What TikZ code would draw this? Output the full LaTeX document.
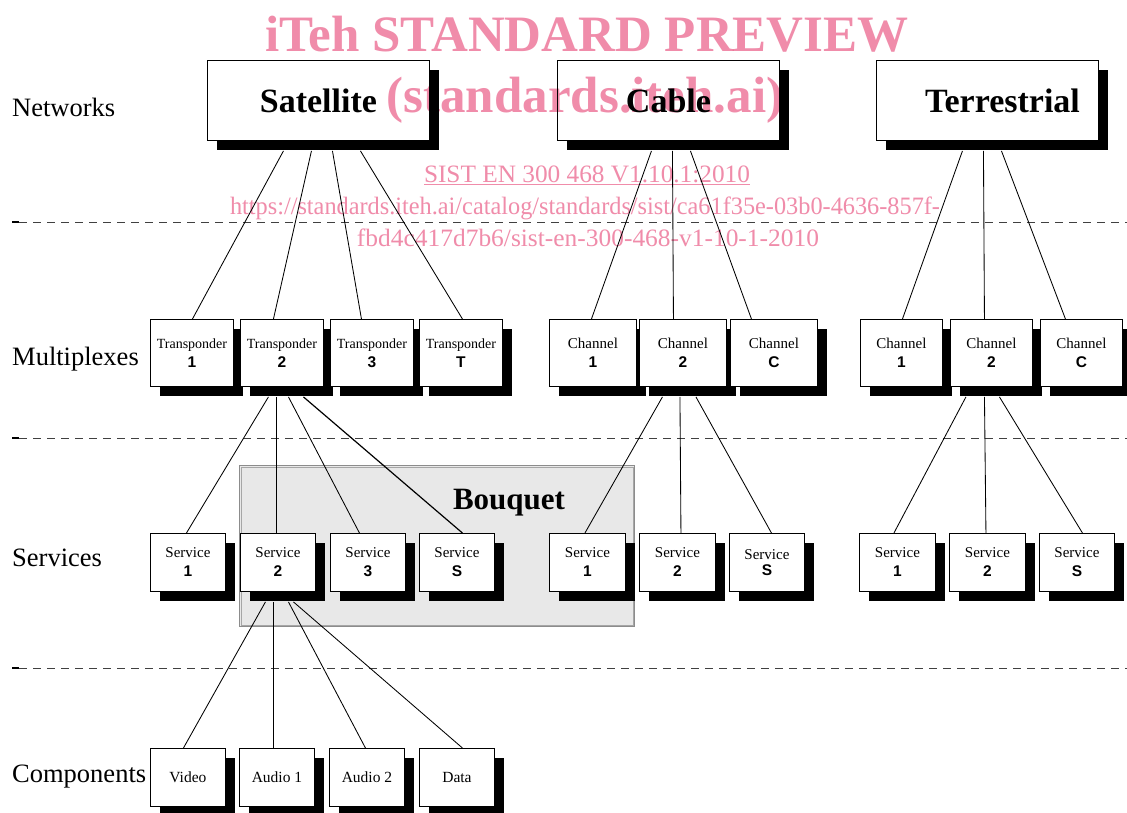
\documentclass[tikz,border=0pt]{standalone}
\usepackage{fontspec}
\setmainfont{Liberation Serif}
\setsansfont{Liberation Sans}
\usetikzlibrary{shadows}
\definecolor{wm}{RGB}{240,140,170}
\definecolor{bqfill}{RGB}{232,232,232}
\tikzset{
  box/.style={draw=black, line width=0.9pt, fill=white, inner sep=0pt, anchor=north west, align=center,
    drop shadow={shadow xshift=10pt, shadow yshift=-10pt, opacity=1, fill=black}},
  netbox/.style={box, minimum width=222pt, minimum height=80pt, font=\fontsize{34}{34}\selectfont\bfseries},
  muxbox/.style={box, minimum height=67pt, font=\fontsize{15}{19}\selectfont},
  svcbox/.style={box, minimum width=75pt, minimum height=58pt, font=\fontsize{15}{19}\selectfont},
  compbox/.style={box, minimum width=75pt, minimum height=58pt, font=\fontsize{15.5}{19}\selectfont},
  rowlabel/.style={anchor=base west, inner sep=0pt, font=\fontsize{26.5}{26.5}\selectfont},
  conn/.style={draw=black, line width=0.85pt},
  sep/.style={draw=black!75, line width=0.9pt, dash pattern=on 8pt off 6pt},
  wmtext/.style={text=wm, inner sep=0pt, anchor=base}
}
\newcommand{\nb}[1]{{\sffamily\bfseries\fontsize{15.5}{19}\selectfont #1}}
\begin{document}
\begin{tikzpicture}[x=1pt, y=-1pt]
\clip (0,0) rectangle (1127,812);
\useasboundingbox (0,0) rectangle (1127,812);
\fill[white] (0,0) rectangle (1127,812);

% separators
\foreach \yy in {222,438,668} {
  \draw[sep] (19,\yy) -- (1127,\yy);
  \draw[black, line width=1.4pt] (12,\yy) -- (19,\yy);
}

% row labels
\node[rowlabel] (lnet) at (12,116) {Networks};
\node[rowlabel] (lmux) at (12,365) {Multiplexes};
\node[rowlabel] (lsvc) at (12,566) {Services};
\node[rowlabel] (lcomp) at (12,782) {Components};

% bouquet
\node[draw=black!45, line width=1.1pt, fill=bqfill, minimum width=395pt, minimum height=161pt, anchor=north west, inner sep=0pt] (bq) at (239,465) {};
\draw[black!35, line width=0.5pt] ([xshift=2.3pt,yshift=-2.3pt]bq.north west) rectangle ([xshift=-2.3pt,yshift=2.3pt]bq.south east);
\node[anchor=base, inner sep=0pt, font=\fontsize{31}{31}\selectfont\bfseries] (bqt) at (509,509) {Bouquet};

% networks
\node[netbox] (sat) at (207,60) {Satellite};
\node[netbox] (cab) at (557,60) {Cable};
\node[netbox] (ter) at (876,60) {\hspace*{30pt}Terrestrial};

% multiplexes
\node[muxbox, minimum width=83pt, font=\fontsize{14}{19}\selectfont] (tp1) at (150,319) {Transponder\\\nb{1}};
\node[muxbox, minimum width=83pt, font=\fontsize{14}{19}\selectfont] (tp2) at (240,319) {Transponder\\\nb{2}};
\node[muxbox, minimum width=83pt, font=\fontsize{14}{19}\selectfont] (tp3) at (330,319) {Transponder\\\nb{3}};
\node[muxbox, minimum width=83pt, font=\fontsize{14}{19}\selectfont] (tpt) at (419,319) {Transponder\\\nb{T}};
\node[muxbox, minimum width=87pt] (cc1) at (549,319) {Channel\\\nb{1}};
\node[muxbox, minimum width=87pt] (cc2) at (639,319) {Channel\\\nb{2}};
\node[muxbox, minimum width=87pt] (ccc) at (730,319) {Channel\\\nb{C}};
\node[muxbox, minimum width=82pt] (tc1) at (860,319) {Channel\\\nb{1}};
\node[muxbox, minimum width=82pt] (tc2) at (950,319) {Channel\\\nb{2}};
\node[muxbox, minimum width=82pt] (tcc) at (1040,319) {Channel\\\nb{C}};

% connectors networks -> multiplexes
\draw[conn] ([xshift=-35pt,yshift=-10pt]sat.south) -- ([xshift=0.5pt]tp1.north);
\draw[conn] ([xshift=-7pt,yshift=-10pt]sat.south) -- ([xshift=-8.5pt]tp2.north);
\draw[conn] ([xshift=14pt,yshift=-10pt]sat.south) -- ([xshift=-10.5pt]tp3.north);
\draw[conn] ([xshift=42pt,yshift=-10pt]sat.south) -- ([xshift=1.5pt]tpt.north);
\draw[conn] ([xshift=-17pt,yshift=-10pt]cab.south) -- ([xshift=-1.5pt]cc1.north);
\draw[conn] ([xshift=4pt,yshift=-10pt]cab.south) -- ([xshift=-9.5pt]cc2.north);
\draw[conn] ([xshift=22pt,yshift=-10pt]cab.south) -- ([xshift=-22.5pt]ccc.north);
\draw[conn] ([xshift=-25pt,yshift=-10pt]ter.south) -- ([xshift=1pt]tc1.north);
\draw[conn] ([xshift=-4pt,yshift=-10pt]ter.south) -- ([xshift=-7pt]tc2.north);
\draw[conn] ([xshift=14pt,yshift=-10pt]ter.south) -- ([xshift=-16pt]tcc.north);

% services
\node[svcbox] (ss1) at (150,533) {Service\\\nb{1}};
\node[svcbox] (ss2) at (240,533) {Service\\\nb{2}};
\node[svcbox] (ss3) at (330,533) {Service\\\nb{3}};
\node[svcbox] (sss) at (419,533) {Service\\\nb{S}};
\node[svcbox, minimum width=76pt] (cs1) at (549,533) {Service\\\nb{1}};
\node[svcbox, minimum width=76pt] (cs2) at (639,533) {Service\\\nb{2}};
\node[svcbox] (css) at (729,533) {\raisebox{-3pt}{Service}\\\nb{S}};
\node[svcbox, minimum width=76pt] (ts1) at (859,533) {Service\\\nb{1}};
\node[svcbox, minimum width=76pt] (ts2) at (949,533) {Service\\\nb{2}};
\node[svcbox] (tss) at (1039,533) {Service\\\nb{S}};

% connectors multiplexes -> services
\draw[conn] ([xshift=-13.5pt,yshift=-10pt]tp2.south) -- ([xshift=-1.5pt]ss1.north);
\draw[conn, line width=1.2pt] ([xshift=-5.5pt,yshift=-10pt]tp2.south) -- ([xshift=-1.5pt]ss2.north);
\draw[conn] ([xshift=6.5pt,yshift=-10pt]tp2.south) -- ([xshift=-8.5pt]ss3.north);
\draw[conn, line width=1.2pt] ([xshift=21.5pt,yshift=-10pt]tp2.south) -- ([xshift=5.5pt]sss.north);
\draw[conn] ([xshift=-20.5pt,yshift=-10pt]cc2.south) -- ([xshift=-2.5pt]cs1.north);
\draw[conn] ([xshift=-3pt,yshift=-10pt]cc2.south) -- ([xshift=3.5pt]cs2.north);
\draw[conn] ([xshift=13pt,yshift=-10pt]cc2.south) -- ([xshift=4.5pt]css.north);
\draw[conn] ([xshift=-25.5pt,yshift=-10pt]tc2.south) -- ([xshift=-3.5pt]ts1.north);
\draw[conn] ([xshift=-7pt,yshift=-10pt]tc2.south) -- ([xshift=-1.5pt]ts2.north);
\draw[conn] ([xshift=8pt,yshift=-10pt]tc2.south) -- ([xshift=5.5pt]tss.north);

% components
\node[compbox] (cv) at (150,748) {\raisebox{-3pt}{Video}};
\node[compbox] (ca1) at (239,748) {\raisebox{-3pt}{Audio 1}};
\node[compbox] (ca2) at (329,748) {\raisebox{-3pt}{Audio 2}};
\node[compbox] (cd) at (419,748) {\raisebox{-3pt}{Data}};

% connectors services -> components
\draw[conn] ([xshift=-12.5pt,yshift=-10pt]ss2.south) -- ([xshift=-4.5pt]cv.north);
\draw[conn] ([xshift=-4.5pt,yshift=-10pt]ss2.south) -- ([xshift=-3.5pt]ca1.north);
\draw[conn] ([xshift=10.5pt,yshift=-10pt]ss2.south) -- ([xshift=-1.5pt]ca2.north);
\draw[conn] ([xshift=15.5pt,yshift=-10pt]ss2.south) -- ([xshift=5.5pt]cd.north);

% watermark
\begin{scope}[blend mode=multiply]
\node[wmtext, font=\fontsize{51}{51}\selectfont\bfseries] (wm1) at (587,51) {iTeh STANDARD PREVIEW};
\node[wmtext, font=\fontsize{51}{51}\selectfont\bfseries] (wm2) at (585,112) {(standards.iteh.ai)};
\node[wmtext] (wm3) at (587,182) {\resizebox{326pt}{\height}{\fontsize{25}{25}\selectfont\underline{SIST EN 300 468 V1.10.1:2010}}};
\node[wmtext] (wm4) at (585,214) {\resizebox{710pt}{\height}{\fontsize{25}{25}\selectfont https://standards.iteh.ai/catalog/standards/sist/ca61f35e-03b0-4636-857f-}};
\node[wmtext] (wm5) at (588,246) {\resizebox{462pt}{\height}{\fontsize{25}{25}\selectfont fbd4c417d7b6/sist-en-300-468-v1-10-1-2010}};
\end{scope}
\end{tikzpicture}
\end{document}
